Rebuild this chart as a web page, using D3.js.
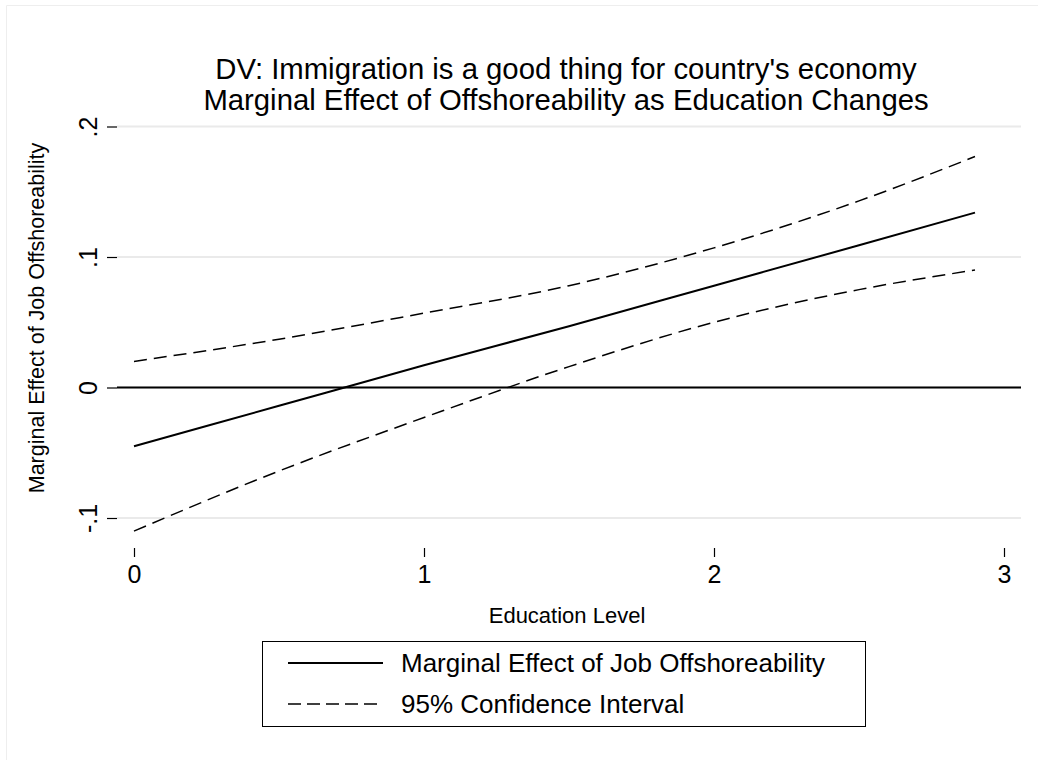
<!DOCTYPE html>
<html>
<head>
<meta charset="utf-8">
<script src="https://cdn.jsdelivr.net/npm/d3@7"></script>
<style>
  html, body { margin: 0; padding: 0; background: #fff; }
  svg text { font-family: "Liberation Sans", Arial, Helvetica, sans-serif; fill: #000; }
</style>
</head>
<body>
<svg id="chart" width="1038" height="760"></svg>
<script>
// Education levels at which the marginal effect was evaluated
const education = [0, 0.5, 1, 1.5, 2, 2.5, 2.9];
// Marginal effect of job offshoreability
const marginalEffect = [-0.045, -0.014, 0.017, 0.047, 0.078, 0.109, 0.134];
// 95% confidence bounds
const upperCI = [0.020, 0.037, 0.057, 0.078, 0.107, 0.143, 0.177];
const lowerCI = [-0.110, -0.064, -0.023, 0.016, 0.050, 0.075, 0.090];

const xTicks = [0, 1, 2, 3];
const xTickLabels = ["0", "1", "2", "3"];
const yTicks = [0.2, 0.1, 0, -0.1];
const yTickLabels = [".2", ".1", "0", "-.1"];

const titleLines = [
  "DV: Immigration is a good thing for country's economy",
  "Marginal Effect of Offshoreability as Education Changes"
];
const xTitle = "Education Level";
const yTitle = "Marginal Effect of Job Offshoreability";
const legendLabels = ["Marginal Effect of Job Offshoreability", "95% Confidence Interval"];

const svg = d3.select("#chart");

// outer graph frame (top and left edges visible)
svg.append("line").attr("x1", 6.5).attr("x2", 1038).attr("y1", 5.5).attr("y2", 5.5)
  .attr("stroke", "#eeeeee").attr("stroke-width", 1);
svg.append("line").attr("x1", 6.5).attr("x2", 6.5).attr("y1", 5.5).attr("y2", 760)
  .attr("stroke", "#eeeeee").attr("stroke-width", 1);

const x = d3.scaleLinear().domain([0, 3]).range([134, 1004]);
const y = d3.scaleLinear().domain([-0.1, 0.2]).range([518, 126.5]);
const plotLeft = 117, plotRight = 1021;

// gridlines
svg.append("g").selectAll("line").data(yTicks).join("line")
  .attr("x1", plotLeft).attr("x2", plotRight)
  .attr("y1", d => y(d)).attr("y2", d => y(d))
  .attr("stroke", "#eaeaea").attr("stroke-width", 2);

// y axis: ticks and rotated labels
const yAxis = d3.axisLeft(y).tickValues(yTicks)
  .tickFormat((d, i) => yTickLabels[i]).tickSize(10).tickPadding(10);
const gy = svg.append("g").attr("transform", `translate(${plotLeft},0)`).call(yAxis);
gy.select(".domain").remove();
gy.selectAll(".tick line").attr("stroke", "#000").attr("stroke-width", 1.2);
gy.selectAll(".tick text")
  .attr("font-size", 25)
  .attr("x", null).attr("dy", null)
  .attr("text-anchor", "middle")
  .attr("transform", "translate(-20,0) rotate(-90)")
  .attr("font-family", "Liberation Sans, Arial, sans-serif");

// x axis
const xAxis = d3.axisBottom(x).tickValues(xTicks)
  .tickFormat((d, i) => xTickLabels[i]).tickSize(9).tickPadding(8);
const gx = svg.append("g").attr("transform", "translate(0,548)").call(xAxis);
gx.select(".domain").remove();
gx.selectAll(".tick line").attr("stroke", "#000").attr("stroke-width", 1.2);
gx.selectAll(".tick text").attr("font-size", 25)
  .attr("font-family", "Liberation Sans, Arial, sans-serif");

// reference line at zero
svg.append("line").attr("x1", plotLeft).attr("x2", plotRight)
  .attr("y1", y(0)).attr("y2", y(0))
  .attr("stroke", "#000").attr("stroke-width", 2);

const rows = education.map((e, i) => ({ e, me: marginalEffect[i], lo: lowerCI[i], hi: upperCI[i] }));
const curve = d3.curveMonotoneX;
const mkLine = key => d3.line().x(d => x(d.e)).y(d => y(d[key])).curve(curve);

svg.append("path").datum(rows).attr("d", mkLine("hi"))
  .attr("fill", "none").attr("stroke", "#000").attr("stroke-width", 1.5)
  .attr("stroke-dasharray", "13,7");
svg.append("path").datum(rows).attr("d", mkLine("lo"))
  .attr("fill", "none").attr("stroke", "#000").attr("stroke-width", 1.5)
  .attr("stroke-dasharray", "13,7");
svg.append("path").datum(rows).attr("d", mkLine("me"))
  .attr("fill", "none").attr("stroke", "#000").attr("stroke-width", 2);

// titles
svg.append("g").selectAll("text").data(titleLines).join("text")
  .attr("x", 566).attr("y", (d, i) => 79 + i * 31)
  .attr("text-anchor", "middle").attr("font-size", 29.3).text(d => d);

svg.append("text").attr("x", 567).attr("y", 623)
  .attr("text-anchor", "middle").attr("font-size", 22).text(xTitle);

svg.append("text").attr("transform", "translate(44,318) rotate(-90)")
  .attr("text-anchor", "middle").attr("font-size", 21.5).text(yTitle);

// legend
const lg = svg.append("g");
lg.append("rect").attr("x", 262.5).attr("y", 641.5).attr("width", 603).attr("height", 85)
  .attr("fill", "#fff").attr("stroke", "#000").attr("stroke-width", 1);
const dashes = [null, "13,6"];
const widths = [2, 1.5];
legendLabels.forEach((lab, i) => {
  const cy = 663 + i * 41;
  lg.append("line").attr("x1", 288).attr("x2", 383).attr("y1", cy).attr("y2", cy)
    .attr("stroke", "#000").attr("stroke-width", widths[i])
    .attr("stroke-dasharray", dashes[i]);
  lg.append("text").attr("x", 401).attr("y", cy + 9).attr("font-size", 26).text(lab);
});
</script>
</body>
</html>
